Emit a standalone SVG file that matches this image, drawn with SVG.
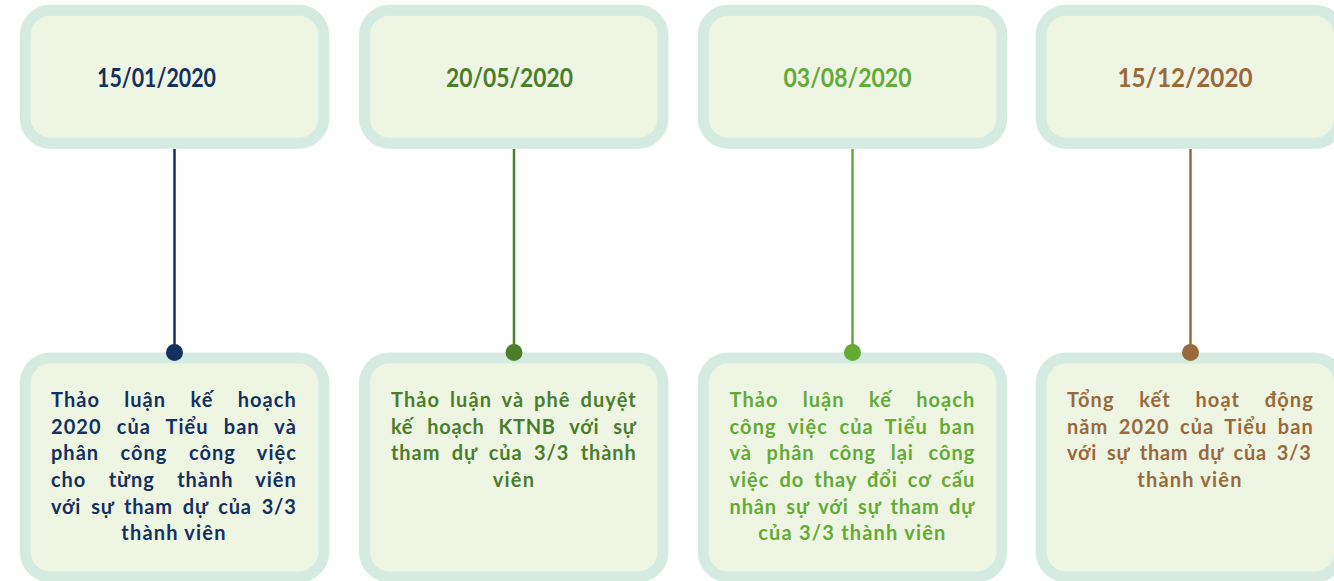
<svg xmlns="http://www.w3.org/2000/svg" width="1334" height="581" viewBox="0 0 1334 581">
<style>
.box{fill:#eff5e3;stroke:#d5ebe1;stroke-width:11}
.date{font-family:Lato,"Noto Sans",sans-serif;font-weight:700;font-size:26px}
.body{font-family:Lato,"Noto Sans",sans-serif;font-weight:700;font-size:20px;letter-spacing:1.2px}
.c1{fill:#13305f}.c2{fill:#4b7d2b}.c3{fill:#63aa36}.c4{fill:#986a3b}
.mid{text-anchor:middle}
</style>
<rect width="1334" height="581" fill="#ffffff"/>
<g id="date1">
<rect class="box" x="25.3" y="10.3" width="298.5" height="133" rx="25"/>
<text class="date c1" x="97" y="87" textLength="119" lengthAdjust="spacingAndGlyphs">15/01/2020</text>
</g>
<g id="date2">
<rect class="box" x="364.5" y="10.3" width="298.5" height="133" rx="25"/>
<text class="date c2" x="446" y="87" textLength="127" lengthAdjust="spacingAndGlyphs">20/05/2020</text>
</g>
<g id="date3">
<rect class="box" x="703.3" y="10.3" width="298.5" height="133" rx="25"/>
<text class="date c3" x="783.5" y="87" textLength="128" lengthAdjust="spacingAndGlyphs">03/08/2020</text>
</g>
<g id="date4">
<rect class="box" x="1041.2" y="10.3" width="298.5" height="133" rx="25"/>
<text class="date c4" x="1117.5" y="87" textLength="135" lengthAdjust="spacingAndGlyphs">15/12/2020</text>
</g>
<g id="event1" class="body c1">
<rect class="box" x="25.3" y="358" width="298.5" height="219" rx="25"/>
<text x="51" y="407" style="word-spacing:18.4px" textLength="246" lengthAdjust="spacing">Thảo luận kế hoạch</text>
<text x="51" y="433.7" style="word-spacing:9.1px" textLength="246" lengthAdjust="spacing">2020 của Tiểu ban và</text>
<text x="51" y="460.3" style="word-spacing:15.7px" textLength="246" lengthAdjust="spacing">phân công công việc</text>
<text x="51" y="487" style="word-spacing:16.5px" textLength="246" lengthAdjust="spacing">cho từng thành viên</text>
<text x="51" y="513.7" style="word-spacing:4.5px" textLength="246" lengthAdjust="spacing">với sự tham dự của 3/3</text>
<text class="mid" x="174" y="540.3">thành viên</text>
</g>
<g id="event2" class="body c2">
<rect class="box" x="364.5" y="358" width="298.5" height="219" rx="25"/>
<text x="391" y="407" style="word-spacing:3.8px" textLength="246" lengthAdjust="spacing">Thảo luận và phê duyệt</text>
<text x="391" y="433.7" style="word-spacing:8.5px" textLength="246" lengthAdjust="spacing">kế hoạch KTNB với sự</text>
<text x="391" y="460.3" style="word-spacing:5.6px" textLength="246" lengthAdjust="spacing">tham dự của 3/3 thành</text>
<text class="mid" x="514" y="487">viên</text>
</g>
<g id="event3" class="body c3">
<rect class="box" x="703.3" y="358" width="298.5" height="219" rx="25"/>
<text x="729.5" y="407" style="word-spacing:18.4px" textLength="246" lengthAdjust="spacing">Thảo luận kế hoạch</text>
<text x="729.5" y="433.7" style="word-spacing:5.5px" textLength="246" lengthAdjust="spacing">công việc của Tiểu ban</text>
<text x="729.5" y="460.3" style="word-spacing:8.8px" textLength="246" lengthAdjust="spacing">và phân công lại công</text>
<text x="729.5" y="487" style="word-spacing:4.2px" textLength="246" lengthAdjust="spacing">việc do thay đổi cơ cấu</text>
<text x="729.5" y="513.7" style="word-spacing:3.7px" textLength="246" lengthAdjust="spacing">nhân sự với sự tham dự</text>
<text class="mid" x="852.4" y="540.3">của 3/3 thành viên</text>
</g>
<g id="event4" class="body c4">
<rect class="box" x="1041.2" y="358" width="298.5" height="219" rx="25"/>
<text x="1067" y="407" style="word-spacing:18.7px" textLength="247" lengthAdjust="spacing">Tổng kết hoạt động</text>
<text x="1067" y="433.7" style="word-spacing:4.5px" textLength="247" lengthAdjust="spacing">năm 2020 của Tiểu ban</text>
<text x="1067" y="460.3" style="word-spacing:4.3px" textLength="245" lengthAdjust="spacing">với sự tham dự của 3/3</text>
<text class="mid" x="1190" y="487">thành viên</text>
</g>
<g id="connectors" stroke-width="2.5">
<line x1="174.5" y1="149" x2="174.5" y2="352" stroke="#13305f"/>
<circle cx="174.5" cy="352.5" r="8.5" fill="#13305f" stroke="none"/>
<line x1="514" y1="149" x2="514" y2="352" stroke="#4b7d2b"/>
<circle cx="514" cy="352.5" r="8.5" fill="#4b7d2b" stroke="none"/>
<line x1="852.5" y1="149" x2="852.5" y2="352" stroke="#63aa36"/>
<circle cx="852.5" cy="352.5" r="8.5" fill="#63aa36" stroke="none"/>
<line x1="1190.5" y1="149" x2="1190.5" y2="352" stroke="#986a3b"/>
<circle cx="1190.5" cy="352.5" r="8.5" fill="#986a3b" stroke="none"/>
</g>
</svg>
